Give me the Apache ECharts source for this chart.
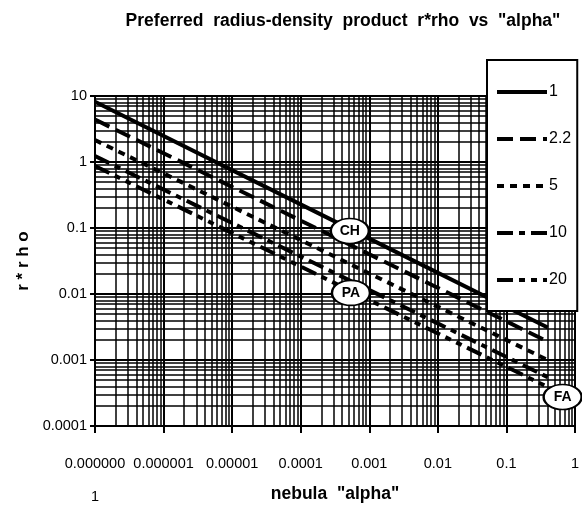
<!DOCTYPE html>
<html>
<head>
<meta charset="utf-8">
<script src="https://cdn.jsdelivr.net/npm/echarts@6/dist/echarts.min.js"></script>
<style>
html,body{margin:0;padding:0;background:#fff;}
#chart{width:582px;height:529px;}
</style>
</head>
<body>
<div id="chart"></div>
<script>
// ---- data ----
const alphas = [1e-7, 1e-3, 0.4];
const seriesNames = ['1', '2.2', '5', '10', '20'];
const vals1 = [8.2, 0.069, 0.0031];
const vals22 = [4.4, 0.040, 0.0019];
const vals5 = [2.15, 0.0205, 0.001];
const vals10 = [1.23, 0.0115, 0.00055];
const vals20 = [0.87, 0.0081, 0.00039];
const xTickValues = [1e-7, 1e-6, 1e-5, 1e-4, 1e-3, 1e-2, 1e-1, 1];
const xTickLabels = ['0.000000\n1', '0.000001', '0.00001', '0.0001', '0.001', '0.01', '0.1', '1'];
const yTickValues = [1e-4, 1e-3, 1e-2, 1e-1, 1, 10];
const yTickLabels = ['0.0001', '0.001', '0.01', '0.1', '1', '10'];
const noteLabels = ['CH', 'PA', 'FA'];
const noteAlpha = [5.2e-4, 5.4e-4, 0.66];
const noteValue = [0.09, 0.0104, 0.000275];

const FONT = "'Liberation Sans Narrow','Arial Narrow','Liberation Sans',sans-serif";
const X_MIN = 1e-7, X_MAX = 1, Y_MIN = 1e-4, Y_MAX = 10;

function lbl(list, labels, v) {
  for (let i = 0; i < list.length; i++) {
    if (Math.abs(Math.log10(v) - Math.log10(list[i])) < 1e-6) return labels[i];
  }
  return '';
}

// minor grid (2..9 within each decade), drawn through the axes' log scales
const minorGrid = [];
for (let e = -7; e < 0; e++) for (let m = 2; m <= 9; m++) {
  const x = m * Math.pow(10, e);
  minorGrid.push({coords: [[x, Y_MIN], [x, Y_MAX]]});
}
for (let e = -4; e < 1; e++) for (let m = 2; m <= 9; m++) {
  const y = m * Math.pow(10, e);
  minorGrid.push({coords: [[X_MIN, y], [X_MAX, y]]});
}

const dashes = [null, [16, 7], [7, 6], [16, 6, 6, 6], [16, 6, 6, 6, 6, 6]];
const allVals = [vals1, vals22, vals5, vals10, vals20];

const series = [{
  name: 'grid', type: 'lines', coordinateSystem: 'cartesian2d', z: 1, silent: true,
  polyline: false, animation: false,
  lineStyle: {color: '#000', width: 1.5, opacity: 1, type: 'solid'},
  effect: {show: false},
  data: minorGrid
}];
allVals.forEach((v, i) => {
  series.push({
    name: seriesNames[i], type: 'line', symbol: 'none', showSymbol: false, z: 3,
    data: alphas.map((a, j) => [a, v[j]]),
    itemStyle: {color: '#000'},
    lineStyle: {color: '#000', width: 4, type: dashes[i] || 'solid', cap: 'butt'},
    animation: false
  });
});
series.push({
  name: 'notes', type: 'line', data: [], z: 5,
  markPoint: {
    animation: false,
    symbol: 'circle', symbolSize: [38, 25],
    itemStyle: {color: '#fff', borderColor: '#000', borderWidth: 2},
    label: {show: true, color: '#000', fontFamily: FONT, fontWeight: 'bold', fontSize: 14, position: 'inside',
      formatter: p => p.name},
    data: noteLabels.map((n, i) => ({name: n, coord: [noteAlpha[i], noteValue[i]]}))
  }
});

const chart = echarts.init(document.getElementById('chart'), null, {renderer: 'canvas'});
chart.setOption({
  animation: false,
  backgroundColor: '#fff',
  title: {
    text: 'Preferred  radius-density  product  r*rho  vs  "alpha"',
    left: 338, top: 7, textAlign: 'center',
    textStyle: {fontFamily: FONT, fontWeight: 'bold', fontSize: 17.5, color: '#000'}
  },
  legend: {
    data: seriesNames.map(n => ({name: n, itemStyle: {opacity: 0}})),
    orient: 'vertical', left: 487, top: 60,
    padding: [24, 6, 23, 8],
    itemWidth: 50, itemHeight: 14, itemGap: 31,
    backgroundColor: '#fff', borderColor: '#000', borderWidth: 2,
    itemStyle: {opacity: 0},
    lineStyle: {width: 4, color: '#000'},
    textStyle: {fontFamily: FONT, fontSize: 16, color: '#000', padding: [0, 0, 0, -3]},
    selectedMode: false
  },
  grid: {left: 95, top: 96, width: 480, height: 330, show: false,
    containLabel: false, outerBoundsMode: 'none'},
  xAxis: {
    type: 'log', min: X_MIN, max: X_MAX, logBase: 10,
    name: 'nebula  "alpha"', nameLocation: 'middle', nameGap: 59, nameMoveOverlap: false,
    nameTextStyle: {fontFamily: FONT, fontWeight: 'bold', fontSize: 17.5, color: '#000'},
    axisLine: {show: true, lineStyle: {color: '#000', width: 2}},
    axisTick: {show: true, length: 7, inside: false, lineStyle: {color: '#000', width: 2}},
    axisLabel: {fontFamily: FONT, fontSize: 14.5, color: '#000', margin: 21, lineHeight: 33,
      showMinLabel: true, showMaxLabel: true, interval: 0, hideOverlap: false,
      formatter: v => lbl(xTickValues, xTickLabels, v)},
    splitLine: {show: true, lineStyle: {color: '#000', width: 2}},
    minorTick: {show: false}, minorSplitLine: {show: false}
  },
  yAxis: {
    type: 'log', min: Y_MIN, max: Y_MAX, logBase: 10,
    name: 'r * r h o', nameLocation: 'middle', nameGap: 63, nameRotate: 90, nameMoveOverlap: false,
    nameTextStyle: {fontFamily: FONT, fontWeight: 'bold', fontSize: 17, color: '#000'},
    axisLine: {show: true, lineStyle: {color: '#000', width: 2}},
    axisTick: {show: true, length: 5, lineStyle: {color: '#000', width: 2}},
    axisLabel: {fontFamily: FONT, fontSize: 14.5, color: '#000', margin: 8,
      showMinLabel: true, showMaxLabel: true,
      formatter: v => lbl(yTickValues, yTickLabels, v)},
    splitLine: {show: true, lineStyle: {color: '#000', width: 2}}
  },
  series: series
});
</script>
</body>
</html>
